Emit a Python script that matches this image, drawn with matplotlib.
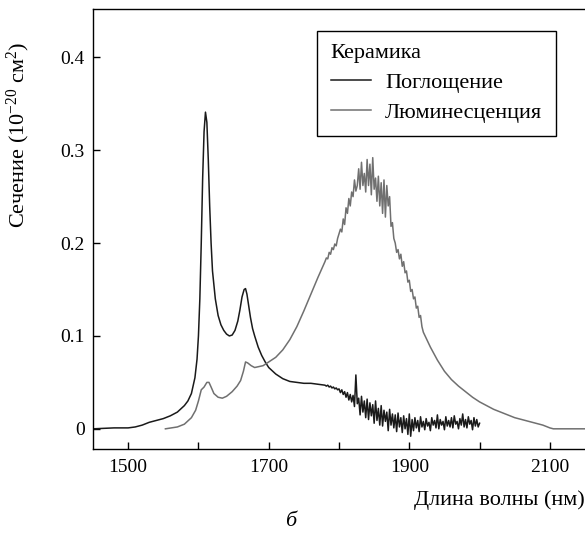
import matplotlib
matplotlib.use("Agg")
import matplotlib.pyplot as plt
from matplotlib.ticker import MultipleLocator

plt.rcParams['font.family'] = ['Liberation Serif', 'DejaVu Serif']
plt.rcParams['mathtext.fontset'] = 'custom'
plt.rcParams['mathtext.rm'] = 'Liberation Serif'
plt.rcParams['mathtext.it'] = 'Liberation Serif:italic'

# Поглощение: гладкая часть
abs_wl = [1450, 1480, 1500, 1510, 1520, 1530, 1540, 1550, 1560, 1570, 1580, 1585, 1590,
          1595, 1598, 1600, 1602, 1604, 1606, 1608, 1610, 1612, 1614, 1616, 1618, 1620,
          1624, 1628, 1632, 1636, 1640, 1644, 1648, 1652, 1656, 1659, 1662, 1665, 1667,
          1669, 1671, 1674, 1677, 1680, 1685, 1690, 1695, 1700, 1710, 1720, 1730, 1740,
          1750, 1760, 1770]
abs_val = [0.0, 0.001, 0.001, 0.002, 0.004, 0.007, 0.009, 0.011, 0.014, 0.018, 0.025, 0.030,
           0.038, 0.055, 0.075, 0.10, 0.14, 0.20, 0.27, 0.32, 0.341, 0.33, 0.29, 0.24, 0.20,
           0.17, 0.14, 0.122, 0.112, 0.106, 0.102, 0.100, 0.101, 0.106, 0.116, 0.128, 0.142,
           0.150, 0.151, 0.145, 0.135, 0.12, 0.108, 0.10, 0.088, 0.079, 0.072, 0.066, 0.059,
           0.054, 0.051, 0.050, 0.049, 0.049, 0.048]

# Поглощение: шумная часть, 1780-2000 нм с шагом 2 нм
abs_noisy_wl = list(range(1780, 2001, 2))
abs_noisy_val = [
    0.047, 0.046, 0.047, 0.045, 0.046, 0.044, 0.045, 0.043, 0.044, 0.042,
    0.043, 0.039, 0.042, 0.037, 0.040, 0.034, 0.039, 0.031, 0.037, 0.029,
    0.036, 0.024, 0.058, 0.027, 0.033, 0.015, 0.035, 0.018, 0.030, 0.012,
    0.032, 0.010, 0.028, 0.014, 0.026, 0.006, 0.030, 0.009, 0.022, 0.004,
    0.025, 0.003, 0.020, 0.008, 0.018, -0.002, 0.021, 0.004, 0.016, 0.001,
    0.015, -0.003, 0.017, 0.002, 0.012, -0.004, 0.014, 0.000, 0.011, -0.006,
    0.016, -0.008, 0.010, -0.002, 0.012, 0.001, 0.009, -0.003, 0.013, 0.002,
    0.008, -0.001, 0.011, 0.003, 0.007, -0.002, 0.012, 0.004, 0.009, 0.001,
    0.015, 0.000, 0.010, 0.004, 0.008, -0.001, 0.013, 0.003, 0.009, 0.002,
    0.012, 0.001, 0.014, 0.005, 0.008, 0.000, 0.011, 0.004, 0.016, 0.002,
    0.010, 0.001, 0.013, 0.005, 0.009, -0.001, 0.012, 0.003, 0.010, 0.002,
    0.006]

# Люминесценция
lum_wl = [1553, 1570, 1580, 1590, 1596, 1600, 1604, 1608, 1612, 1615, 1618, 1622, 1628,
          1634, 1640, 1648, 1655, 1660, 1664, 1667, 1670, 1675, 1680, 1686, 1692, 1700,
          1710, 1720, 1730, 1740, 1750, 1760, 1770]
lum_val = [0.0, 0.002, 0.005, 0.012, 0.020, 0.030, 0.042, 0.045, 0.050, 0.050, 0.045, 0.038,
           0.034, 0.033, 0.035, 0.040, 0.046, 0.052, 0.062, 0.072, 0.071, 0.068, 0.066, 0.067,
           0.068, 0.072, 0.077, 0.085, 0.096, 0.110, 0.127, 0.145, 0.163]

lum_noisy_wl = list(range(1780, 1921, 2))
lum_noisy_val = [
    0.180, 0.184, 0.183, 0.190, 0.188, 0.195, 0.193, 0.199, 0.197, 0.205,
    0.210, 0.215, 0.212, 0.226, 0.220, 0.238, 0.232, 0.248, 0.240, 0.255,
    0.250, 0.268, 0.256, 0.262, 0.280, 0.258, 0.287, 0.262, 0.275, 0.255,
    0.290, 0.262, 0.285, 0.252, 0.292, 0.258, 0.270, 0.245, 0.272, 0.240,
    0.265, 0.232, 0.268, 0.228, 0.262, 0.240, 0.250, 0.218, 0.222, 0.205,
    0.200, 0.190, 0.193, 0.183, 0.188, 0.175, 0.180, 0.168, 0.170, 0.158,
    0.160, 0.148, 0.150, 0.140, 0.142, 0.130, 0.132, 0.120, 0.122, 0.110,
    0.104]

lum_tail_wl = [1930, 1940, 1950, 1960, 1970, 1980, 1990, 2000, 2010, 2020, 2030, 2040,
               2050, 2060, 2070, 2080, 2090, 2100, 2105, 2150]
lum_tail_val = [0.088, 0.074, 0.062, 0.053, 0.046, 0.040, 0.034, 0.029, 0.025, 0.021,
                0.018, 0.015, 0.012, 0.010, 0.008, 0.006, 0.004, 0.001, 0.0, 0.0]

x_abs = abs_wl + abs_noisy_wl
y_abs = abs_val + abs_noisy_val
x_lum = lum_wl + lum_noisy_wl + lum_tail_wl
y_lum = lum_val + lum_noisy_val + lum_tail_val

fig = plt.figure(figsize=(5.85, 5.33), dpi=100)
ax = fig.add_axes([0.159, 0.158, 0.841, 0.825])

ax.plot(x_abs, y_abs, color='#1a1a1a', lw=1.1, label='Поглощение')
ax.plot(x_lum, y_lum, color='#707070', lw=1.1, label='Люминесценция')

ax.set_xlim(1450, 2150)
ax.set_ylim(-0.0215, 0.452)
ax.set_xticks([1500, 1700, 1900, 2100])
ax.xaxis.set_minor_locator(MultipleLocator(100))
ax.set_yticks([0, 0.1, 0.2, 0.3, 0.4])
ax.set_yticklabels(['0', '0.1', '0.2', '0.3', '0.4'])
ax.tick_params(which='both', direction='in', length=5, width=1, labelsize=14)
ax.tick_params(axis='x', pad=7)
ax.tick_params(axis='y', pad=6)
ax.spines['right'].set_visible(False)
for s in ['left', 'bottom', 'top']:
    ax.spines[s].set_linewidth(1.0)

ax.set_ylabel('Сечение (10$^{-20}$ см$^{2}$)', fontsize=16)
ax.yaxis.set_label_coords(-0.124, 0.714)
ax.set_xlabel('Длина волны (нм)', fontsize=16, ha='right')
ax.xaxis.set_label_coords(1.0, -0.095)

leg = ax.legend(title='Керамика', loc='upper left', bbox_to_anchor=(0.456, 0.95),
                fontsize=16, title_fontsize=16, alignment='left', fancybox=False,
                edgecolor='black', framealpha=1, handlelength=1.8, handletextpad=0.65,
                borderpad=0.6, labelspacing=0.42, borderaxespad=0)
leg.get_frame().set_linewidth(1.0)

fig.text(0.496, 0.0225, 'б', fontsize=16, style='italic', ha='center', va='center')

fig.savefig('out.png', dpi=100)
